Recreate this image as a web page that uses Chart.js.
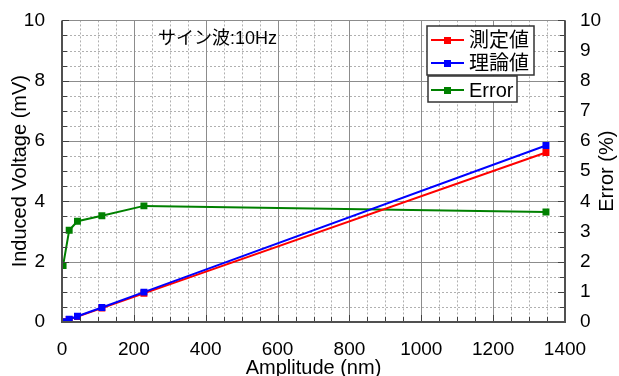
<!DOCTYPE html>
<html>
<head>
<meta charset="utf-8">
<script src="https://cdn.jsdelivr.net/npm/chart.js@4"></script>
<style>
  html,body{margin:0;padding:0;background:#fff;}
  #wrap{width:619px;height:376px;}
</style>
</head>
<body>
<div id="wrap"><canvas id="c" width="619" height="376"></canvas></div>
<script>
// ---- data ----
const amplitude = [3, 20, 43, 111, 228, 1347];          // nm
const measured  = [0.01, 0.085, 0.18, 0.46, 0.95, 5.62]; // 測定値 (mV)
const theory    = [0.01, 0.09, 0.19, 0.48, 0.99, 5.85];  // 理論値 (mV)
const errorPct  = [1.87, 3.04, 3.34, 3.52, 3.85, 3.65];  // Error (%)

const seriesNames = ['測定値', '理論値', 'Error'];
const seriesColors = ['#ff0000', '#0000ff', '#008000'];
const chartTitle = 'サイン波:10Hz';
const xTitle = 'Amplitude (nm)';
const yTitle = 'Induced Voltage (mV)';
const y2Title = 'Error (%)';

const xRange = [0, 1400], xMajor = 200, xMinor = 50;
const yRange = [0, 10],   yMajor = 2,   yMinor = 0.5;
const y2Range = [0, 10],  y2Major = 1;

const FONT = '"Liberation Sans", Arial, "Noto Sans CJK JP", sans-serif';

function pts(ys){ return amplitude.map((x,i)=>({x, y: ys[i]})); }
function isMult(v, m){ const r = v / m; return Math.abs(r - Math.round(r)) < 1e-9; }
function range(a, b, step){ const out = []; const n = Math.round((b - a) / step); for (let i = 0; i <= n; i++) out.push(a + i * step); return out; }

const gridPlugin = {
  id: 'gridFrame',
  beforeDatasetsDraw(chart){
    const ctx = chart.ctx;
    const ca = chart.chartArea;
    const xs = chart.scales.x, ys = chart.scales.y;
    ctx.save();
    ctx.lineWidth = 1;
    // minor dashed grid
    ctx.strokeStyle = '#b0b0b0';
    ctx.setLineDash([2, 2]);
    ctx.beginPath();
    range(xRange[0], xRange[1], xMinor).forEach(v => {
      if (isMult(v, xMajor)) return;
      const p = Math.round(xs.getPixelForValue(v)) + 0.5;
      ctx.moveTo(p, ca.top); ctx.lineTo(p, ca.bottom);
    });
    range(yRange[0], yRange[1], yMinor).forEach(v => {
      if (isMult(v, yMajor)) return;
      const p = Math.round(ys.getPixelForValue(v)) + 0.5;
      ctx.moveTo(ca.left, p); ctx.lineTo(ca.right, p);
    });
    ctx.stroke();
    // major solid grid
    ctx.setLineDash([]);
    ctx.strokeStyle = '#8c8c8c';
    ctx.beginPath();
    range(xRange[0], xRange[1], xMajor).forEach(v => {
      const p = Math.round(xs.getPixelForValue(v)) + 0.5;
      ctx.moveTo(p, ca.top); ctx.lineTo(p, ca.bottom);
    });
    range(yRange[0], yRange[1], yMajor).forEach(v => {
      const p = Math.round(ys.getPixelForValue(v)) + 0.5;
      ctx.moveTo(ca.left, p); ctx.lineTo(ca.right, p);
    });
    ctx.stroke();
    ctx.restore();
  },
  afterDatasetsDraw(chart){
    const ctx = chart.ctx;
    const ca = chart.chartArea;
    const xs = chart.scales.x, ys = chart.scales.y, y2s = chart.scales.y2;
    ctx.save();
    ctx.strokeStyle = '#404040';
    ctx.setLineDash([]);
    ctx.lineWidth = 1;
    ctx.beginPath();
    range(yRange[0], yRange[1], yMinor).forEach(v => {
      const p = Math.round(ys.getPixelForValue(v)) + 0.5;
      const len = isMult(v, yMajor) ? 7 : 5;
      ctx.moveTo(ca.left, p); ctx.lineTo(ca.left + len, p);
    });
    range(y2Range[0], y2Range[1], y2Major / 2).forEach(v => {
      const p = Math.round(y2s.getPixelForValue(v)) + 0.5;
      const len = isMult(v, y2Major) ? 7 : 5;
      ctx.moveTo(ca.right, p); ctx.lineTo(ca.right - len, p);
    });
    range(xRange[0], xRange[1], xMinor).forEach(v => {
      const p = Math.round(xs.getPixelForValue(v)) + 0.5;
      const len = isMult(v, xMajor) ? 7 : 5;
      ctx.moveTo(p, ca.bottom); ctx.lineTo(p, ca.bottom - len);
    });
    ctx.stroke();
    ctx.lineWidth = 2;
    ctx.strokeStyle = '#505050';
    ctx.beginPath();
    ctx.moveTo(ca.left, ca.top); ctx.lineTo(ca.left, ca.bottom); ctx.lineTo(ca.right, ca.bottom); ctx.lineTo(ca.right, ca.top);
    ctx.stroke();
    ctx.restore();
  },
  afterDraw(chart){
    const ctx = chart.ctx;
    const ca = chart.chartArea;
    ctx.save();
    ctx.fillStyle = '#000';
    ctx.font = '20px ' + FONT;
    ctx.textAlign = 'center';
    ctx.textBaseline = 'alphabetic';
    ctx.fillText(xTitle, (ca.left + ca.right) / 2, 374);
    ctx.textBaseline = 'middle';
    ctx.save(); ctx.translate(20, (ca.top + ca.bottom) / 2); ctx.rotate(-Math.PI / 2);
    ctx.fillText(yTitle, 0, 0); ctx.restore();
    ctx.save(); ctx.translate(607, (ca.top + ca.bottom) / 2); ctx.rotate(-Math.PI / 2);
    ctx.fillText(y2Title, 0, 0); ctx.restore();
    ctx.font = '18px ' + FONT;
    ctx.textAlign = 'left';
    ctx.fillText(chartTitle, 158, 39);
    const ds = chart.data.datasets;
    const drawEntry = (d, yy) => {
      ctx.strokeStyle = d.borderColor; ctx.lineWidth = 2;
      ctx.beginPath(); ctx.moveTo(431, yy); ctx.lineTo(464, yy); ctx.stroke();
      ctx.fillStyle = d.borderColor;
      ctx.fillRect(444, yy - 3, 7, 7);
      ctx.fillStyle = '#000';
      ctx.font = '20px ' + FONT;
      ctx.textAlign = 'left'; ctx.textBaseline = 'middle';
      ctx.fillText(d.label, 469, yy + 1);
    };
    ctx.lineWidth = 1.5; ctx.strokeStyle = '#333';
    ctx.fillStyle = '#fff';
    ctx.fillRect(427, 26, 107, 49); ctx.strokeRect(427, 26, 107, 49);
    ctx.fillStyle = '#fff';
    ctx.fillRect(428, 76, 89, 26); ctx.strokeRect(428, 76, 89, 26);
    drawEntry(ds[0], 40);
    drawEntry(ds[1], 63);
    drawEntry(ds[2], 90);
    ctx.restore();
  }
};

const common = { borderWidth: 2, pointStyle: 'rect', pointRadius: 3.5, pointHoverRadius: 3.5, tension: 0, fill: false };
const plainLabel = v => String(v);

new Chart(document.getElementById('c'), {
  type: 'line',
  data: {
    datasets: [
      Object.assign({ label: seriesNames[0], data: pts(measured), borderColor: seriesColors[0], backgroundColor: seriesColors[0], yAxisID: 'y', order: 2 }, common),
      Object.assign({ label: seriesNames[1], data: pts(theory), borderColor: seriesColors[1], backgroundColor: seriesColors[1], yAxisID: 'y', order: 1 }, common),
      Object.assign({ label: seriesNames[2], data: pts(errorPct), borderColor: seriesColors[2], backgroundColor: seriesColors[2], yAxisID: 'y2', order: 3 }, common)
    ]
  },
  options: {
    responsive: false,
    animation: false,
    layout: { padding: { top: 19, left: 0, right: 0, bottom: 0 } },
    plugins: { legend: { display: false }, tooltip: { enabled: false }, title: { display: false } },
    scales: {
      x: {
        type: 'linear', min: xRange[0], max: xRange[1],
        grid: { display: false }, border: { display: false },
        ticks: { stepSize: xMajor, color: '#000', font: { size: 19, family: FONT }, padding: 8, maxRotation: 0, callback: plainLabel },
        afterFit(s){ s.height = 54; }
      },
      y: {
        type: 'linear', position: 'left', min: yRange[0], max: yRange[1],
        grid: { display: false }, border: { display: false },
        ticks: { stepSize: yMajor, color: '#000', font: { size: 19, family: FONT }, padding: 9, callback: plainLabel },
        afterFit(s){ s.width = 62; }
      },
      y2: {
        type: 'linear', position: 'right', min: y2Range[0], max: y2Range[1],
        grid: { display: false }, border: { display: false },
        ticks: { stepSize: y2Major, color: '#000', font: { size: 19, family: FONT }, padding: 7, callback: plainLabel },
        afterFit(s){ s.width = 54; }
      }
    }
  },
  plugins: [gridPlugin]
});
</script>
</body>
</html>
